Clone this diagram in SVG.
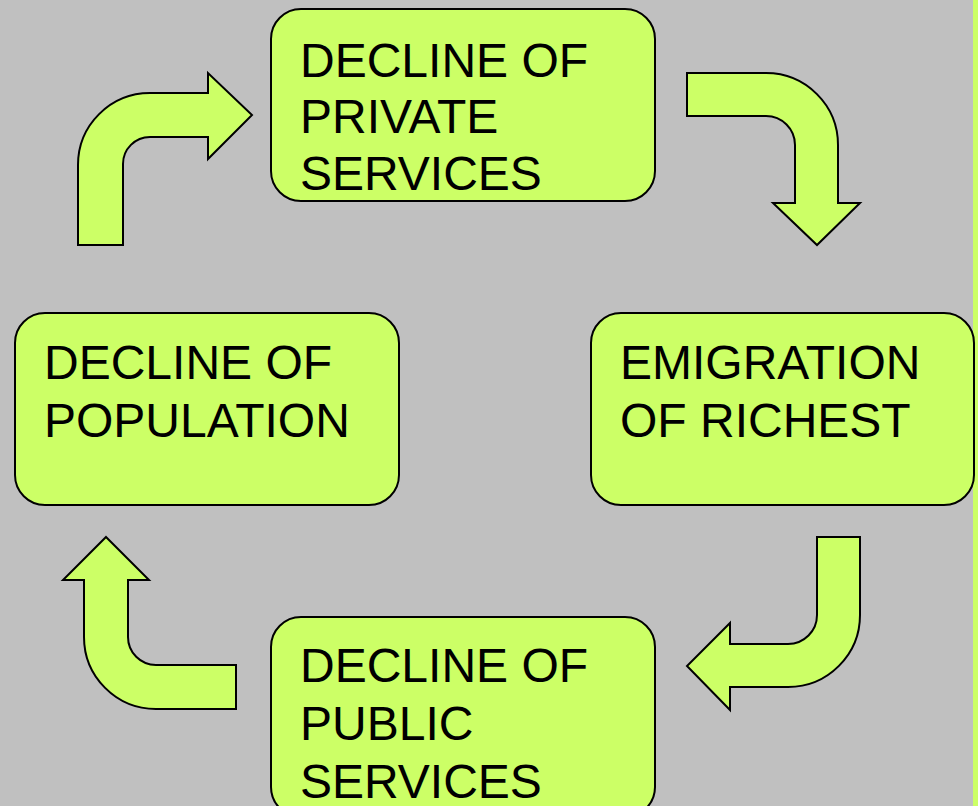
<svg xmlns="http://www.w3.org/2000/svg" width="978" height="806" viewBox="0 0 978 806">
<style>
.box{fill:#ccff66;stroke:#000;stroke-width:2}
.arr{fill:#ccff66;stroke:#000;stroke-width:2;stroke-linejoin:miter}
.t{font-family:"Liberation Sans",Arial,sans-serif;font-size:48px;fill:#000}
</style>
<rect x="0" y="0" width="978" height="806" fill="#c0c0c0"/>
<rect x="973" y="0" width="5" height="806" fill="#ccff66"/>
<g id="connectors">
<path class="arr" d="M78,245 L78,165 A72,72 0 0 1 150,93 L208,93 L208,73 L252,115 L208,159 L208,137 L150,137 A27,27 0 0 0 123,164 L123,245 Z"/>
<path class="arr" d="M687,73 L766,73 A72,72 0 0 1 838,145 L838,203 L860,203 L817,245 L773,203 L795,203 L795,145 A29,29 0 0 0 766,116 L687,116 Z"/>
<path class="arr" d="M817,537 L860,537 L860,615 A72,72 0 0 1 788,687 L730,687 L730,710 L687,666 L730,623 L730,644 L788,644 A29,29 0 0 0 817,615 Z"/>
<path class="arr" d="M106,537 L149,580 L128,580 L128,637 A28,28 0 0 0 156,665 L236,665 L236,709 L156,709 A72,72 0 0 1 84,637 L84,580 L63,580 Z"/>
</g>
<g id="private">
<rect class="box" x="271" y="9" width="384" height="192" rx="30"/>
<text class="t" x="300" y="77">DECLINE OF</text>
<text class="t" x="300" y="133">PRIVATE</text>
<text class="t" x="300" y="190">SERVICES</text>
</g>
<g id="emigration">
<rect class="box" x="591" y="313" width="383" height="192" rx="30"/>
<text class="t" x="620" y="379">EMIGRATION</text>
<text class="t" x="620" y="437">OF RICHEST</text>
</g>
<g id="population">
<rect class="box" x="15" y="313" width="384" height="192" rx="30"/>
<text class="t" x="44" y="379">DECLINE OF</text>
<text class="t" x="44" y="437">POPULATION</text>
</g>
<g id="public">
<rect class="box" x="271" y="617" width="384" height="200" rx="30"/>
<text class="t" x="300" y="682">DECLINE OF</text>
<text class="t" x="300" y="740">PUBLIC</text>
<text class="t" x="300" y="798">SERVICES</text>
</g>
</svg>
